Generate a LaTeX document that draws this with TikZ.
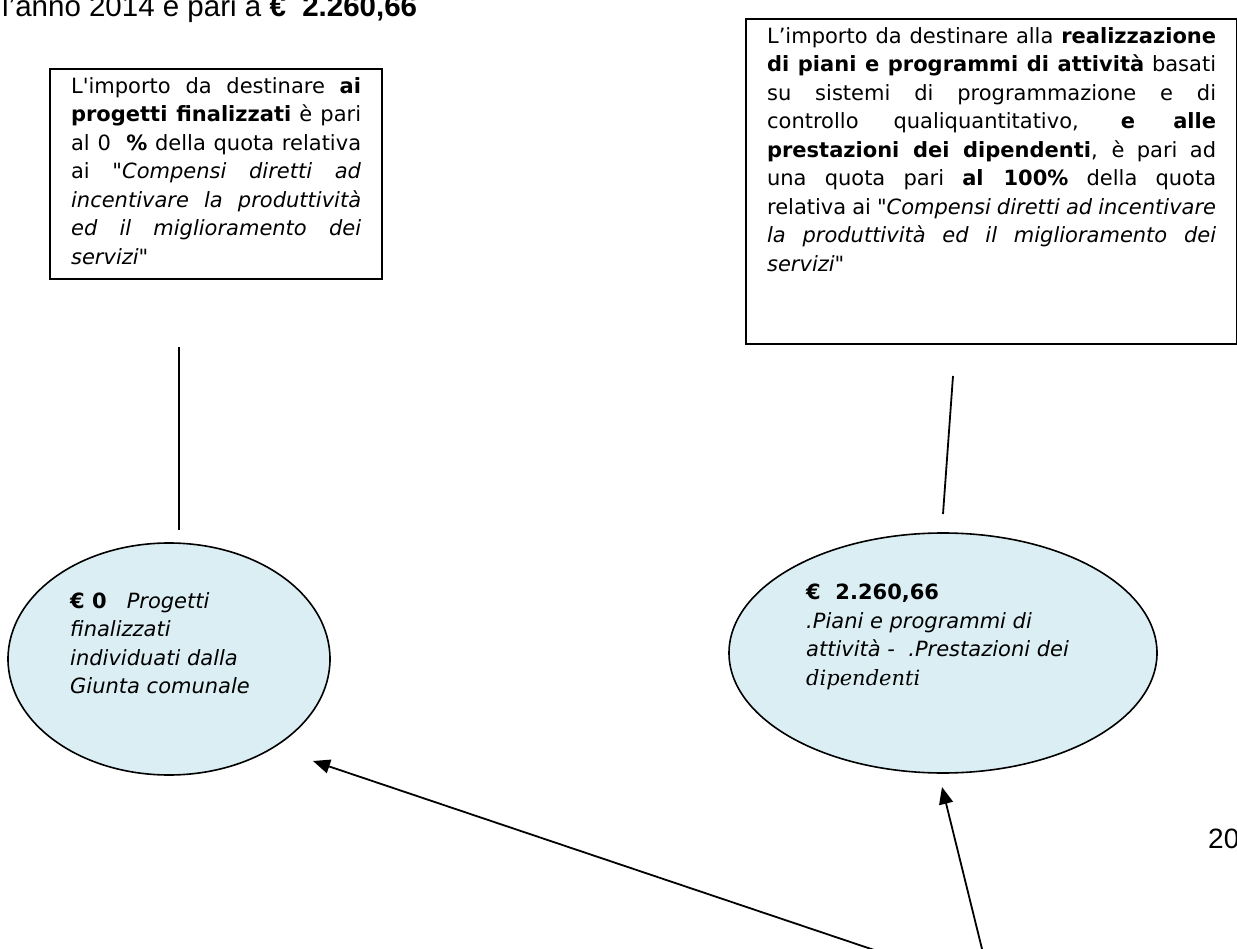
\documentclass[tikz,border=0pt]{standalone}
\usepackage{fontspec}
\setmainfont{Liberation Sans}
\newfontfamily\verdana[Ligatures=TeXOff]{DejaVu Sans}
\newfontfamily\cambria[Ligatures=TeXOff]{DejaVu Serif}
\usepackage{tikz}
\usetikzlibrary{%
arrows.meta,
calc,
positioning,
shapes.geometric
}
\definecolor{acqua}{HTML}{DAEEF3}
\tikzset{
  quotabox/.style={draw,line width=2.2pt,anchor=north west,inner xsep=21pt,inner ysep=8pt,
    align=justify,font=\verdana\fontsize{21}{28.5}\selectfont},
  oval/.style={ellipse,draw,fill=acqua,line width=1.6pt,inner sep=0pt},
  ovaltext/.style={anchor=north west,inner sep=0pt,align=left,font=\verdana\fontsize{21}{28.5}\selectfont},
  stem/.style={line width=1.8pt},
  flow/.style={line width=1.8pt,-{Triangle[length=17pt,width=14pt]}}
}

\begin{document}
\begin{tikzpicture}[x=1pt,y=-1pt]
\useasboundingbox (0,0) rectangle (1237,949);
    % riga in testa e numero di pagina
    \node[anchor=base west,inner sep=0pt,font=\fontsize{29.5}{34}\selectfont] (head) at (2,17)
        {l'anno 2014 è pari a \textbf{€\ \ 2.260,66}};
    \node[anchor=base west,inner sep=0pt,font=\fontsize{28}{32}\selectfont] (pag) at (1208,848) {20};
    % riquadri di testo
    \node[quotabox,text width=290pt,text depth=178pt] (pbox) at (49,68) {%
        L'importo da destinare \textbf{ai}\linebreak
        \textbf{progetti finalizzati} è pari\linebreak
        al 0\ \ \textbf{\%} della quota relativa\linebreak
        ai "\textit{Compensi diretti ad}\linebreak
        \textit{incentivare la produttività}\linebreak
        \textit{ed il miglioramento dei}\linebreak
        \textit{servizi}"};
    \node[quotabox,text width=449pt,text depth=293pt] (abox) at (745,18) {%
        L’importo da destinare alla \textbf{realizzazione}\linebreak
        \textbf{di piani e programmi di attività} basati\linebreak
        su sistemi di programmazione e di\linebreak
        controllo qualiquantitativo, \textbf{e alle}\linebreak
        \textbf{prestazioni dei dipendenti}, è pari ad\linebreak
        una quota pari \textbf{al 100\%} della quota\linebreak
        relativa ai "\textit{Compensi diretti ad incentivare}\linebreak
        \textit{la produttività ed il miglioramento dei}\linebreak
        \textit{servizi}"};
    % ovali
    \node[oval,minimum width=322pt,minimum height=232pt] (pq) at (169,659) {};
    \node[oval,minimum width=428pt,minimum height=240pt] (aq) at (943,653) {};
    \node[ovaltext] (pqt) at (70,592) {\textbf{€ 0}\ \ \ \textit{Progetti}\\
        \textit{finalizzati}\\\textit{individuati dalla}\\\textit{Giunta comunale}};
    \node[ovaltext] (aqt) at (806,584) {\textbf{€\ \ 2.260,66}\\
        \textit{.Piani e programmi di}\\\textit{attività -\ \ .Prestazioni dei}\\
        {\cambria\itshape dipendenti}};
    % collegamenti
    \coordinate (ps) at (179,347);
    \coordinate (pe) at (179,530);
    \coordinate (as) at (953,376);
    \coordinate (ae) at (943,514);
    \draw[stem] (ps) -- (pe);
    \draw[stem] (as) -- (ae);
    \coordinate (pfrom) at (889,955);
    \coordinate (pto) at (313,761);
    \coordinate (afrom) at (984,957);
    \coordinate (ato) at (942,787);
    \draw[flow] (pfrom) -- (pto);
    \draw[flow] (afrom) -- (ato);
\end{tikzpicture}
\end{document}
